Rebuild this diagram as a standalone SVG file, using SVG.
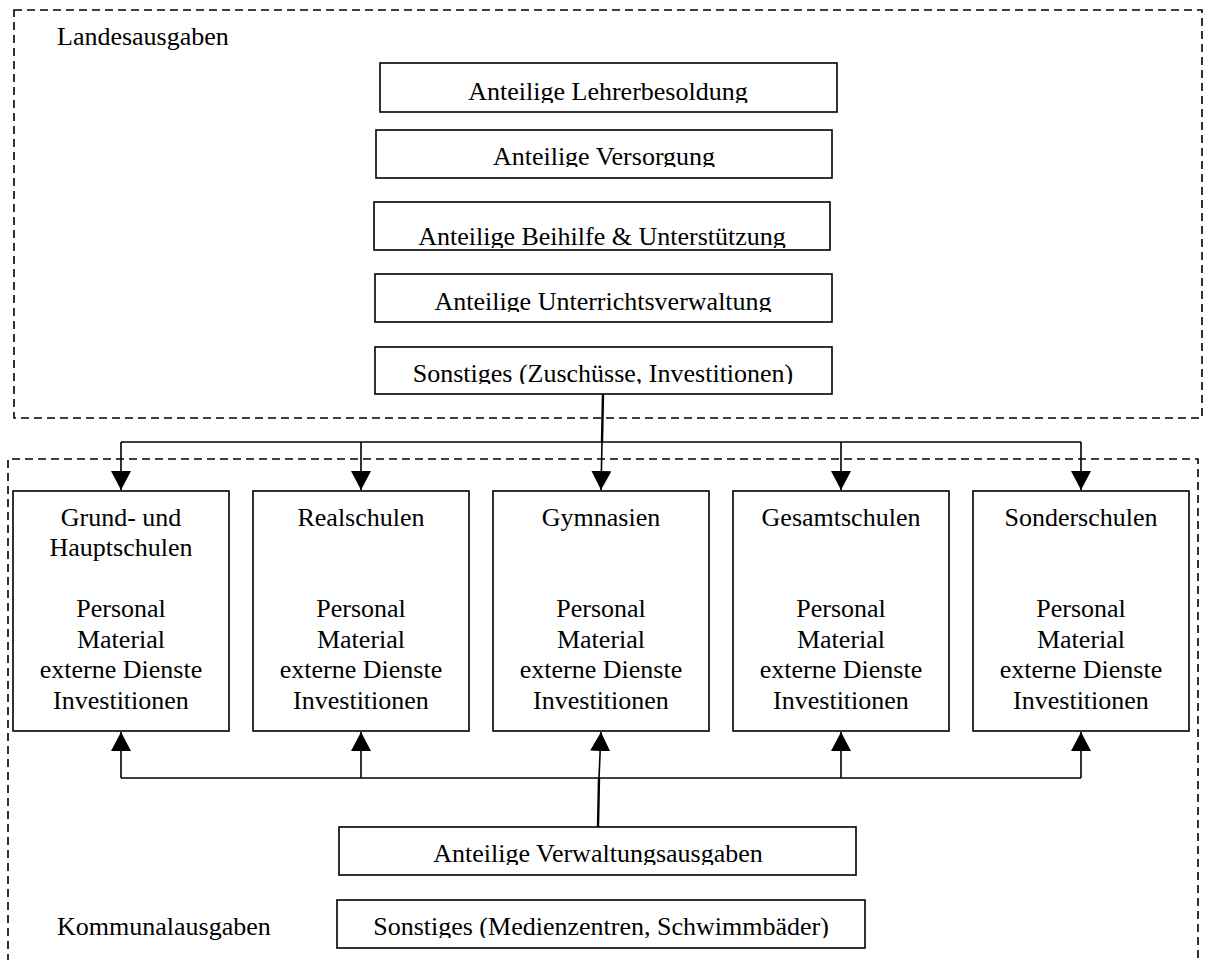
<svg xmlns="http://www.w3.org/2000/svg" width="1205" height="960" viewBox="0 0 1205 960">
<style>
text{font-family:"Liberation Serif","Times New Roman",serif;font-size:26px;fill:#000}
.c{text-anchor:middle}
.box{fill:#fff;stroke:#000;stroke-width:1.6}
.dash{fill:none;stroke:#000;stroke-width:1.6;stroke-dasharray:8 5}
.ln{fill:none;stroke:#000;stroke-width:1.6}
.thick{fill:none;stroke:#000;stroke-width:2.4}
</style>
<defs>
<marker id="ah" markerUnits="userSpaceOnUse" markerWidth="20" markerHeight="20" refX="19" refY="10" orient="auto">
<path d="M0,0 L19,10 L0,20 z" fill="#000"/>
</marker>
<clipPath id="k1"><rect x="380" y="63" width="457" height="40"/></clipPath>
<clipPath id="k2"><rect x="376" y="130" width="456" height="37"/></clipPath>
<clipPath id="k3"><rect x="374" y="202" width="456" height="46"/></clipPath>
<clipPath id="k4"><rect x="375" y="274" width="457" height="38"/></clipPath>
<clipPath id="k5"><rect x="375" y="347" width="457" height="37"/></clipPath>
<clipPath id="k6"><rect x="339" y="827" width="517" height="38"/></clipPath>
<clipPath id="k7"><rect x="337" y="900" width="528" height="38"/></clipPath>
</defs>

<g id="landesausgaben">
<rect class="dash" x="14" y="10" width="1188" height="408"/>
<text x="57" y="45">Landesausgaben</text>
</g>
<g id="kommunalausgaben">
<path class="dash" d="M8,962 L8,459 L1198,459 L1198,962"/>
<text x="57" y="935">Kommunalausgaben</text>
</g>

<g id="lehrerbesoldung">
<rect class="box" x="380" y="63" width="457" height="49"/>
<text class="c" x="608" y="100" clip-path="url(#k1)">Anteilige Lehrerbesoldung</text>
</g>
<g id="versorgung">
<rect class="box" x="376" y="130" width="456" height="48"/>
<text class="c" x="604" y="165" clip-path="url(#k2)">Anteilige Versorgung</text>
</g>
<g id="beihilfe">
<rect class="box" x="374" y="202" width="456" height="48"/>
<text class="c" x="602" y="245" clip-path="url(#k3)">Anteilige Beihilfe &amp; Unterstützung</text>
</g>
<g id="unterrichtsverwaltung">
<rect class="box" x="375" y="274" width="457" height="48"/>
<text class="c" x="603" y="310" clip-path="url(#k4)">Anteilige Unterrichtsverwaltung</text>
</g>
<g id="sonstiges-land">
<rect class="box" x="375" y="347" width="457" height="47"/>
<text class="c" x="603" y="382" clip-path="url(#k5)">Sonstiges (Zuschüsse, Investitionen)</text>
</g>

<g id="grund-hauptschulen">
<rect class="box" x="13" y="491" width="216" height="240"/>
<text class="c" x="121" y="526">Grund- und</text>
<text class="c" x="121" y="556">Hauptschulen</text>
<text class="c" x="121" y="617">Personal</text>
<text class="c" x="121" y="648">Material</text>
<text class="c" x="121" y="678">externe Dienste</text>
<text class="c" x="121" y="709">Investitionen</text>
</g>
<g id="realschulen">
<rect class="box" x="253" y="491" width="216" height="240"/>
<text class="c" x="361" y="526">Realschulen</text>
<text class="c" x="361" y="617">Personal</text>
<text class="c" x="361" y="648">Material</text>
<text class="c" x="361" y="678">externe Dienste</text>
<text class="c" x="361" y="709">Investitionen</text>
</g>
<g id="gymnasien">
<rect class="box" x="493" y="491" width="216" height="240"/>
<text class="c" x="601" y="526">Gymnasien</text>
<text class="c" x="601" y="617">Personal</text>
<text class="c" x="601" y="648">Material</text>
<text class="c" x="601" y="678">externe Dienste</text>
<text class="c" x="601" y="709">Investitionen</text>
</g>
<g id="gesamtschulen">
<rect class="box" x="733" y="491" width="216" height="240"/>
<text class="c" x="841" y="526">Gesamtschulen</text>
<text class="c" x="841" y="617">Personal</text>
<text class="c" x="841" y="648">Material</text>
<text class="c" x="841" y="678">externe Dienste</text>
<text class="c" x="841" y="709">Investitionen</text>
</g>
<g id="sonderschulen">
<rect class="box" x="973" y="491" width="216" height="240"/>
<text class="c" x="1081" y="526">Sonderschulen</text>
<text class="c" x="1081" y="617">Personal</text>
<text class="c" x="1081" y="648">Material</text>
<text class="c" x="1081" y="678">externe Dienste</text>
<text class="c" x="1081" y="709">Investitionen</text>
</g>

<g id="verwaltungsausgaben">
<rect class="box" x="339" y="827" width="517" height="48"/>
<text class="c" x="598" y="862" clip-path="url(#k6)">Anteilige Verwaltungsausgaben</text>
</g>
<g id="sonstiges-kommunal">
<rect class="box" x="337" y="900" width="528" height="48"/>
<text class="c" x="601" y="935" clip-path="url(#k7)">Sonstiges (Medienzentren, Schwimmbäder)</text>
</g>

<g id="connectors">
<path class="thick" d="M603,394 L602,442"/>
<path class="ln" d="M121,442 L1081,442"/>
<path class="ln" d="M121,442 L121,490" marker-end="url(#ah)"/>
<path class="ln" d="M361,442 L361,490" marker-end="url(#ah)"/>
<path class="ln" d="M602,442 L601,490" marker-end="url(#ah)"/>
<path class="ln" d="M841,442 L841,490" marker-end="url(#ah)"/>
<path class="ln" d="M1081,442 L1081,490" marker-end="url(#ah)"/>
<path class="thick" d="M598,827 L599,778"/>
<path class="ln" d="M121,778 L1081,778"/>
<path class="ln" d="M121,778 L121,732" marker-end="url(#ah)"/>
<path class="ln" d="M361,778 L361,732" marker-end="url(#ah)"/>
<path class="ln" d="M599,778 L601,732" marker-end="url(#ah)"/>
<path class="ln" d="M841,778 L841,732" marker-end="url(#ah)"/>
<path class="ln" d="M1081,778 L1081,732" marker-end="url(#ah)"/>
</g>
</svg>
